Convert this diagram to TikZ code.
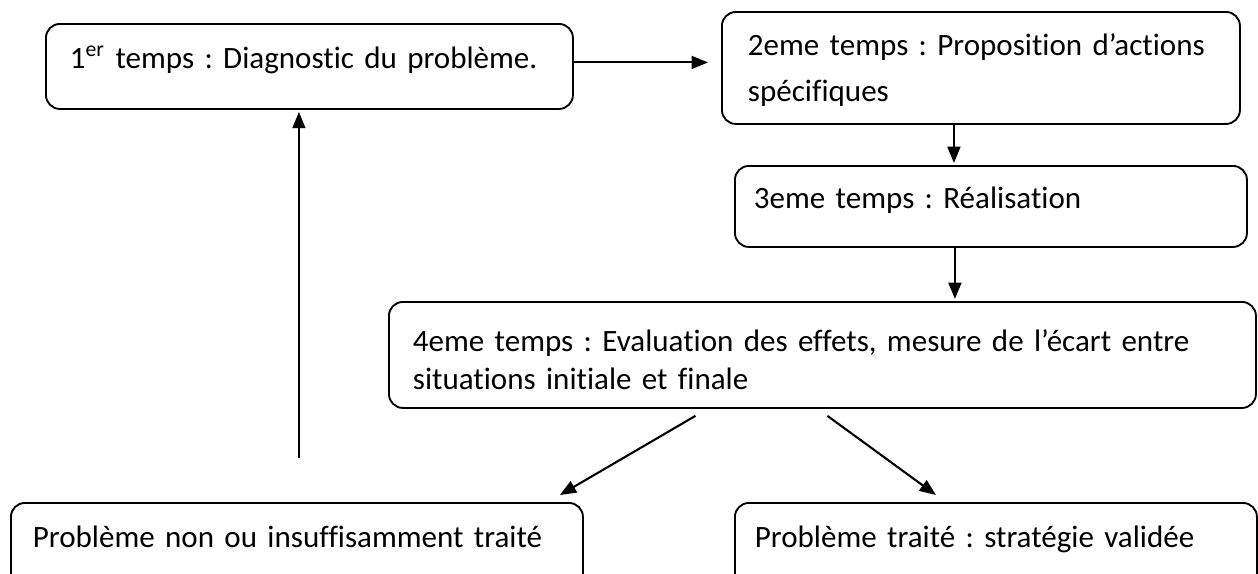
\documentclass[tikz,border=0pt]{standalone}
\usepackage{fontspec}
\setmainfont{Carlito}[Ligatures=NoCommon]
\usetikzlibrary{arrows.meta}
\newcommand{\unitpx}{0.43pt}

\begin{document}
\frenchspacing
\begin{tikzpicture}[x=0.43pt, y=-0.43pt,
    etape/.style={draw, line width=0.8pt, rounded corners=6pt, align=left,
        anchor=north west, inner ysep=0pt, font=\fontsize{13.35}{16}\selectfont},
    fleche/.style={-{Triangle[length=7pt,width=5.5pt]}, line width=0.9pt}]
    \useasboundingbox (0,0) rectangle (1258,573);

    % Les quatre temps
    \node[etape, minimum width=527*\unitpx, inner xsep=24*\unitpx, text width=479*\unitpx,
        text height=45*\unitpx, text depth=40*\unitpx] (diag) at (45,23)
        {\mbox{1\textsuperscript{er} temps : Diagnostic du problème.}};
    \node[etape, minimum width=518*\unitpx, inner xsep=26*\unitpx, text width=466*\unitpx,
        text height=44*\unitpx, text depth=68*\unitpx,
        font=\fontsize{13.35}{19.8}\selectfont] (propo) at (721,11)
        {\mbox{2eme temps : Proposition d’actions}\\spécifiques};
    \node[etape, minimum width=512*\unitpx, inner xsep=19*\unitpx, text width=474*\unitpx,
        text height=43*\unitpx, text depth=38*\unitpx] (real) at (734,165)
        {3eme temps : Réalisation};
    \node[etape, minimum width=867*\unitpx, inner xsep=24*\unitpx, text width=819*\unitpx,
        text height=50*\unitpx, text depth=56*\unitpx,
        font=\fontsize{13.35}{16.3}\selectfont] (eval) at (388,301)
        {4eme temps : Evaluation des effets, mesure de l’écart entre\\situations initiale et finale};

    % Les deux issues
    \node[etape, minimum width=572*\unitpx, inner xsep=22*\unitpx, text width=528*\unitpx,
        text height=45*\unitpx, text depth=60*\unitpx] (nontraite) at (10,502)
        {\mbox{Problème non ou insuffisamment traité}};
    \node[etape, minimum width=522*\unitpx, inner xsep=20*\unitpx, text width=482*\unitpx,
        text height=45*\unitpx, text depth=60*\unitpx] (traite) at (734,502)
        {Problème traité : stratégie validée};

    % Fleches
    \draw[fleche, shorten >=13*\unitpx] ([yshift=4*\unitpx]diag.east) -- ([yshift=4*\unitpx]diag.east -| propo.west);
    \draw[fleche, shorten >=2*\unitpx] ([xshift=-27*\unitpx]propo.south) -- ([xshift=-27*\unitpx]propo.south |- real.north);
    \draw[fleche, shorten >=2*\unitpx] ([xshift=-36*\unitpx]real.south) -- ([xshift=-36*\unitpx]real.south |- eval.north);
    \draw[fleche] ([shift={(-127,7)}]eval.south) -- ([shift={(-24,-7)}]nontraite.north east);
    \draw[fleche] ([shift={(5,7)}]eval.south) -- ([shift={(-60,-7)}]traite.north);
    \draw[fleche, shorten <=44*\unitpx, shorten >=2*\unitpx] ([xshift=2*\unitpx]nontraite.north) -- ([xshift=2*\unitpx]nontraite.north |- diag.south);
\end{tikzpicture}
\end{document}
